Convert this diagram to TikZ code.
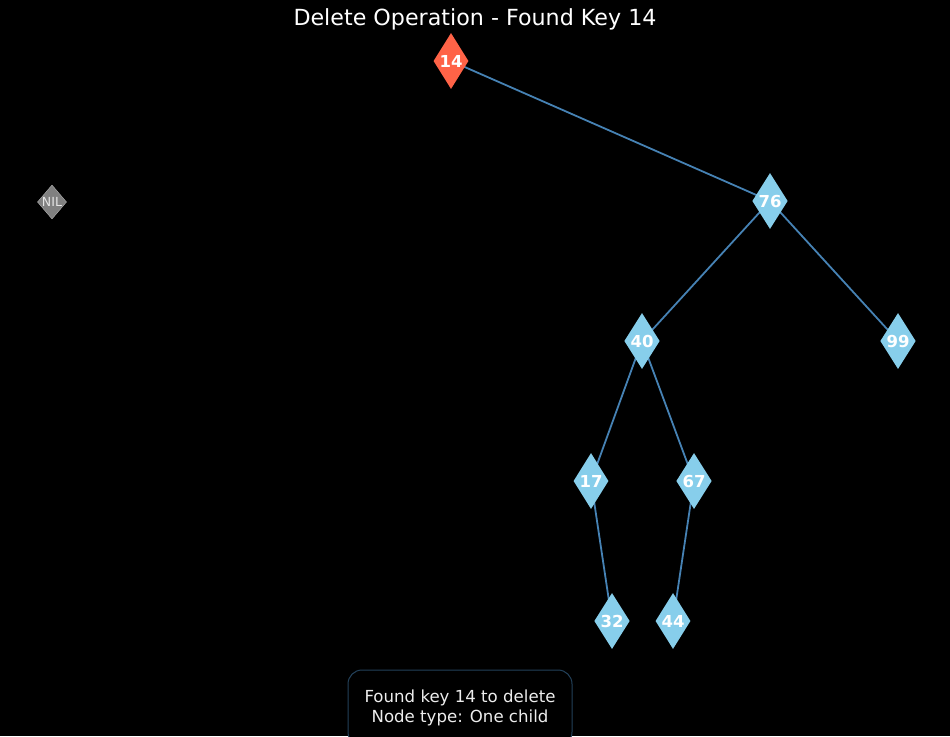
\documentclass[tikz,border=0pt]{standalone}
\usepackage{fontspec}
\setmainfont{DejaVu Sans}
\usetikzlibrary{shapes.geometric,backgrounds}
\definecolor{skyblue}{HTML}{87CEEB}
\definecolor{steelblue}{HTML}{4682B4}
\definecolor{tomato}{HTML}{FF6347}
\begin{document}
\begin{tikzpicture}[x=1pt,y=-1pt,
  key/.style={diamond,fill=skyblue,inner sep=0pt,minimum width=34pt,minimum height=56pt,
    text=white,font=\fontsize{16.5}{18}\selectfont\bfseries},
  found/.style={key,fill=tomato},
  nil/.style={diamond,fill=gray,draw=gray!60!white,inner sep=0pt,minimum width=20pt,
    minimum height=34pt,text=white!80!gray,font=\fontsize{12.5}{13}\selectfont},
  link/.style={steelblue,line width=1.8pt}]
\useasboundingbox (0,0) rectangle (950,736);
\begin{scope}[on background layer]
\fill[black] (0,0) rectangle (950,736);
\end{scope}
\node (title) at (475,19) [text=white,font=\fontsize{22.2}{26}\selectfont] {Delete Operation - Found Key 14};
% tree
\node (n14) at (451,61) [found] {14};
\node (nil) at (52,202) [nil] {NIL};
\node (n76) at (770,201) [key] {76};
\node (n40) at (642,341) [key] {40};
\node (n99) at (898,341) [key] {99};
\node (n17) at (591,481) [key] {17};
\node (n67) at (694,481) [key] {67};
\node (n32) at (612,621) [key] {32};
\node (n44) at (673,621) [key] {44};
\begin{scope}[on background layer]
\draw[link] (n14.center) -- (n76.center);
\draw[link] (n76.center) -- (n40.center);
\draw[link] (n76.center) -- (n99.center);
\draw[link] (n40.center) -- (n17.center);
\draw[link] (n40.center) -- (n67.center);
\draw[link] (n17.center) -- (n32.center);
\draw[link] (n67.center) -- (n44.center);
\end{scope}
% info box
\node (info) at (460,708) [draw=steelblue!50!black,line width=1pt,rounded corners=14pt,
  fill=black,text=white!93!black,align=center,minimum width=224pt,minimum height=76pt,
  font=\fontsize{16.6}{20}\selectfont] {Found key 14 to delete\\Node type: One child};
\end{tikzpicture}
\end{document}
